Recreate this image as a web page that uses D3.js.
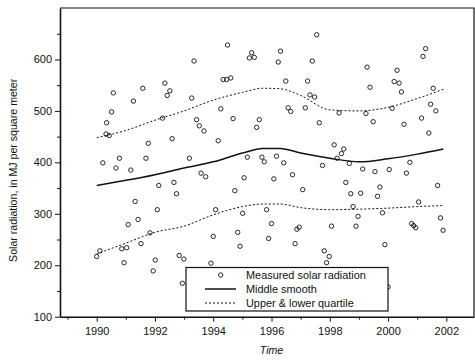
<!DOCTYPE html>
<html>
<head>
<meta charset="utf-8">
<script src="https://cdn.jsdelivr.net/npm/d3@7"></script>
<style>
  html, body { margin: 0; padding: 0; background: #fff; }
  svg { display: block; font-family: "Liberation Sans", Arial, sans-serif; }
</style>
</head>
<body>
<svg id="chart" width="475" height="361"></svg>
<script>
// measured points: decimal year and MJ per square meter
const pointYears = [
  1990.57, 1991.58, 1991.26, 1990.51, 1990.34, 1990.32, 1990.43, 1991.77, 1990.21, 1990.78,
  1990.66, 1991.17, 1991.69, 1991.32, 1992.08, 1992.13, 1991.08, 1991.42, 1991.83, 1991.52,
  1990.86, 1991.03, 1990.94, 1991.94, 1992.01, 1990.00, 1990.11, 1997.55, 1994.49, 1995.32,
  1995.24, 1995.41, 1996.31, 1996.23, 1997.40, 1993.34, 1992.34, 1992.51, 1992.42, 1994.34,
  1994.46, 1994.60, 1996.49, 1997.24, 1997.32, 1997.48, 1993.26, 1994.26, 1996.57, 1996.66,
  1997.16, 1992.26, 1993.43, 1993.52, 1993.68, 1994.68, 1995.58, 1995.49, 1997.64, 1992.59,
  1994.17, 1993.18, 1995.17, 1995.67, 1995.75, 1996.17, 1996.42, 1993.58, 1993.74, 1995.06,
  1996.08, 1996.72, 2001.29, 2001.20, 1999.28, 2000.31, 1999.38, 2000.21, 2000.38, 2000.46,
  2001.55, 1998.32, 1999.24, 2000.14, 1999.49, 2001.46, 2001.64, 2001.15, 2000.55, 2001.40,
  1998.15, 1998.48, 1998.40, 1998.25, 1997.75, 1998.67, 1999.13, 1999.55, 2000.04, 2000.63,
  2000.75, 1992.65, 1992.74, 1994.74, 1997.07, 1994.08, 1995.01, 1995.83, 1996.00, 1996.95,
  1996.87, 1994.00, 1994.84, 1994.92, 1995.90, 1996.81, 1992.83, 1992.99, 1993.92, 1992.94,
  1998.55, 1998.72, 1999.06, 1999.72, 1999.64, 2001.70, 1998.80, 1998.97, 1999.81, 2001.05,
  2001.80, 2000.81, 2000.88, 2000.95, 2001.89, 1998.06, 1998.90, 1999.89, 1997.81, 1997.98,
  1997.89, 2000.00
];
const pointValues = [
  535, 544, 519, 498, 477, 455, 452, 437, 399, 408,
  389, 385, 408, 324, 308, 355, 279, 289, 263, 242,
  232, 234, 205, 189, 210, 217, 228, 648, 628, 613,
  603, 604, 616, 595, 597, 597, 554, 539, 530, 561,
  561, 564, 558, 558, 531, 527, 525, 504, 506, 499,
  506, 486, 483, 471, 461, 485, 483, 468, 477, 446,
  442, 408, 410, 410, 401, 412, 399, 379, 372, 370,
  368, 376, 621, 606, 585, 579, 546, 557, 554, 537,
  544, 496, 495, 505, 479, 513, 500, 486, 474, 457,
  434, 426, 417, 408, 394, 398, 387, 382, 386, 379,
  400, 361, 339, 345, 347, 308, 301, 308, 281, 274,
  270, 256, 264, 237, 252, 242, 219, 212, 204, 165,
  361, 339, 340, 352, 334, 355, 314, 295, 302, 323,
  292, 281, 277, 273, 268, 276, 276, 240, 228, 217,
  205, 158
];

// smoothed curves
const curveYears = [1990.0, 1991, 1992, 1993, 1994, 1995, 1995.7, 1996.3, 1997, 1998, 1999, 2000, 2001, 2001.9];
const middleVals = [355, 365, 376, 389, 401, 418, 427, 427, 418, 408, 401, 407, 416, 426];
const upperVals  = [448, 462, 482, 500, 521, 536, 544, 543, 530, 502, 500, 507, 524, 542];
const lowerVals  = [222, 243, 264, 276, 298, 314, 319, 319, 312, 308, 309, 311, 314, 316];

const xTicks = [1990, 1992, 1994, 1996, 1998, 2000, 2002];
const yTicks = [100, 200, 300, 400, 500, 600];
const legendLabels = ["Measured solar radiation", "Middle smooth", "Upper & lower quartile"];

const svg = d3.select("#chart");
const m = { left: 60, right: 474, top: 8, bottom: 316.7 };

const x = d3.scaleLinear().domain([1988.74, 2002.95]).range([m.left, m.right]);
const y = d3.scaleLinear().domain([100, 700]).range([m.bottom, m.top]);

// frame (top and right)
svg.append("path")
  .attr("d", `M${m.left},${m.top}H${m.right}V${m.bottom}`)
  .attr("fill", "none").attr("stroke", "#111").attr("stroke-width", 1.2);

// axes
const xAxis = svg.append("g").attr("transform", `translate(0,${m.bottom})`)
  .call(d3.axisBottom(x).tickValues(xTicks).tickFormat(d3.format("d")).tickSize(5).tickSizeOuter(0));
svg.append("g").attr("transform", `translate(0,${m.bottom})`)
  .call(d3.axisBottom(x).tickValues(d3.range(1989, 2003, 2)).tickFormat("").tickSize(3).tickSizeOuter(0))
  .call(g => g.select(".domain").remove());
const yAxis = svg.append("g").attr("transform", `translate(${m.left},0)`)
  .call(d3.axisLeft(y).tickValues(yTicks).tickSize(5).tickSizeOuter(0));
svg.append("g").attr("transform", `translate(${m.left},0)`)
  .call(d3.axisLeft(y).tickValues(d3.range(150, 700, 100)).tickFormat("").tickSize(3).tickSizeOuter(0))
  .call(g => g.select(".domain").remove());

svg.selectAll(".domain").attr("stroke", "#111").attr("stroke-width", 1.6);
svg.selectAll(".tick line").attr("stroke", "#111");
xAxis.selectAll(".tick text").attr("font-size", 11).attr("fill", "#111").attr("dy", "0.95em");
yAxis.selectAll(".tick text").attr("font-size", 11).attr("fill", "#111").attr("x", -8);
svg.selectAll(".tick text").attr("font-family", "Liberation Sans, Arial, sans-serif");

// titles
svg.append("text")
  .attr("transform", `translate(17,${(m.top + m.bottom) / 2 + 8}) rotate(-90)`)
  .attr("text-anchor", "middle").attr("font-size", 10.6).attr("fill", "#111")
  .text("Solar radiation, in MJ per square meter");
svg.append("text")
  .attr("x", x(1996)).attr("y", 354)
  .attr("text-anchor", "middle").attr("font-size", 10.6).attr("font-style", "italic").attr("fill", "#111")
  .text("Time");

// points
svg.append("g").selectAll("circle")
  .data(pointYears.map((yr, i) => ({ yr, v: pointValues[i] })))
  .join("circle")
  .attr("cx", d => x(d.yr)).attr("cy", d => y(d.v)).attr("r", 2.2)
  .attr("fill", "none").attr("stroke", "#111").attr("stroke-width", 0.9);

// smooth lines
const line = vals => d3.line()
  .x((d, i) => x(curveYears[i])).y(d => y(d))
  .curve(d3.curveMonotoneX)(vals);

svg.append("path").attr("d", line(middleVals))
  .attr("fill", "none").attr("stroke", "#111").attr("stroke-width", 1.5);
[upperVals, lowerVals].forEach(vals => {
  svg.append("path").attr("d", line(vals))
    .attr("fill", "none").attr("stroke", "#111").attr("stroke-width", 1)
    .attr("stroke-dasharray", "2,2");
});

// legend
const lg = svg.append("g");
lg.append("rect").attr("x", 186).attr("y", 267.5).attr("width", 202).attr("height", 43.5)
  .attr("fill", "#fff").attr("stroke", "#111").attr("stroke-width", 1.2);
lg.append("circle").attr("cx", 220.7).attr("cy", 275).attr("r", 2.2)
  .attr("fill", "none").attr("stroke", "#111").attr("stroke-width", 0.9);
lg.append("line").attr("x1", 205).attr("x2", 236).attr("y1", 289).attr("y2", 289)
  .attr("stroke", "#111").attr("stroke-width", 1.5);
lg.append("line").attr("x1", 205).attr("x2", 236).attr("y1", 303).attr("y2", 303)
  .attr("stroke", "#111").attr("stroke-width", 1).attr("stroke-dasharray", "2,2");
lg.selectAll("text").data(legendLabels).join("text")
  .attr("x", 246).attr("y", (d, i) => 279 + i * 14)
  .attr("font-size", 10.9).attr("fill", "#111")
  .text(d => d);
</script>
</body>
</html>
